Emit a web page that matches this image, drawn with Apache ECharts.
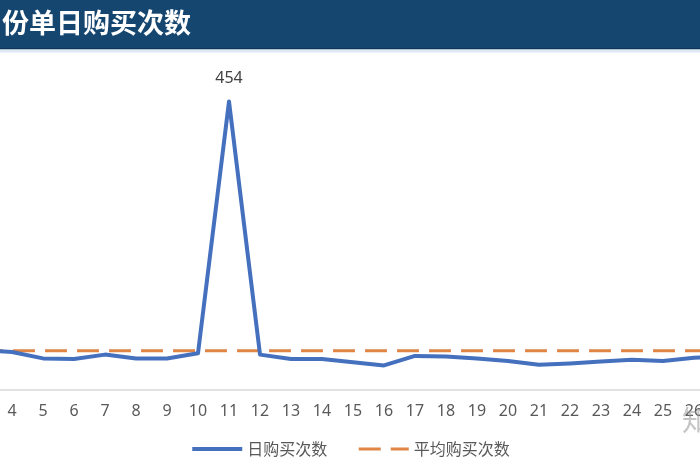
<!DOCTYPE html>
<html>
<head>
<meta charset="utf-8">
<script src="https://cdn.jsdelivr.net/npm/echarts@6/dist/echarts.min.js"></script>
<style>
html,body{margin:0;padding:0;background:#fff;}
#c{width:700px;height:470px;}
</style>
</head>
<body>
<div id="c"></div>
<script>
var titleText = '份单日购买次数';
var days = ['3','4','5','6','7','8','9','10','11','12','13','14','15','16','17','18','19','20','21','22','23','24','25','26','27'];
var dailyBuys = [62,59,49,48,55,49,49,57,454,55,48,48,43,38,53,52,49,45,39,41,44,47,45,50,52];
var avgValue = 61;
var avgBuys = days.map(function(){ return avgValue; });
var seriesNames = ['日购买次数','平均购买次数'];
var peakIndex = 8;

var chart = echarts.init(document.getElementById('c'), null, {renderer:'canvas'});
chart.setOption({
  animation:false,
  backgroundColor:'#ffffff',
  graphic:[
    {type:'rect', shape:{x:0,y:0,width:700,height:48}, style:{fill:'#154670'}, z:0},
    {type:'rect', shape:{x:0,y:48,width:700,height:1.5}, style:{fill:'#0f3558'}, z:0},
    {type:'rect', shape:{x:0,y:49.5,width:700,height:3}, style:{fill:'#dde9f4'}, z:0},
    {type:'text', left:2, top:9, style:{text:titleText, fill:'#ffffff', font:'bold 27px "Noto Sans CJK SC", sans-serif'}, z:10},
    {type:'text', left:682, top:406, style:{text:'知乎', fill:'rgba(150,150,150,0.55)', font:'28px "Noto Sans CJK SC", sans-serif'}, z:10}
  ],
  grid:{left:-19, right:-25, top:72.3, bottom:80.5, containLabel:false, outerBoundsMode:'none'},
  xAxis:{
    type:'category',
    data:days,
    boundaryGap:false,
    axisLine:{show:true, lineStyle:{color:'#d9d9d9', width:1.5}},
    axisTick:{show:false},
    axisLabel:{color:'#595959', fontSize:16, margin:14, fontFamily:'Noto Sans, sans-serif', interval:0},
    splitLine:{show:false}
  },
  yAxis:{
    type:'value', min:0, max:500, show:false,
    splitLine:{show:false}
  },
  legend:{
    bottom:8,
    left:'center',
    itemWidth:50,
    itemHeight:14,
    itemGap:30,
    itemStyle:{opacity:0},
    textStyle:{color:'#595959', fontSize:16, fontFamily:'"Noto Sans CJK SC", sans-serif'},
    data:[
      {name:seriesNames[0], lineStyle:{color:'#4570BE', width:4}},
      {name:seriesNames[1], lineStyle:{color:'#DF8646', width:3, type:[22,10]}}
    ]
  },
  series:[
    {
      name:seriesNames[0], type:'line', data:dailyBuys,
      symbol:'none', smooth:false,
      lineStyle:{color:'#4570BE', width:4, join:'round'},
      itemStyle:{color:'#4570BE'},
      markPoint:{
        symbol:'circle', symbolSize:1,
        itemStyle:{color:'rgba(0,0,0,0)'},
        label:{show:true, position:'top', distance:15, color:'#404040', fontSize:16, fontFamily:'Noto Sans, sans-serif'},
        data:[{coord:[peakIndex, dailyBuys[peakIndex]], value:dailyBuys[peakIndex]}]
      },
      z:3
    },
    {
      name:seriesNames[1], type:'line', data:avgBuys,
      symbol:'none',
      lineStyle:{color:'#DF8646', width:3, type:[22,10]},
      itemStyle:{color:'#DF8646'},
      z:2
    }
  ]
});
</script>
</body>
</html>
